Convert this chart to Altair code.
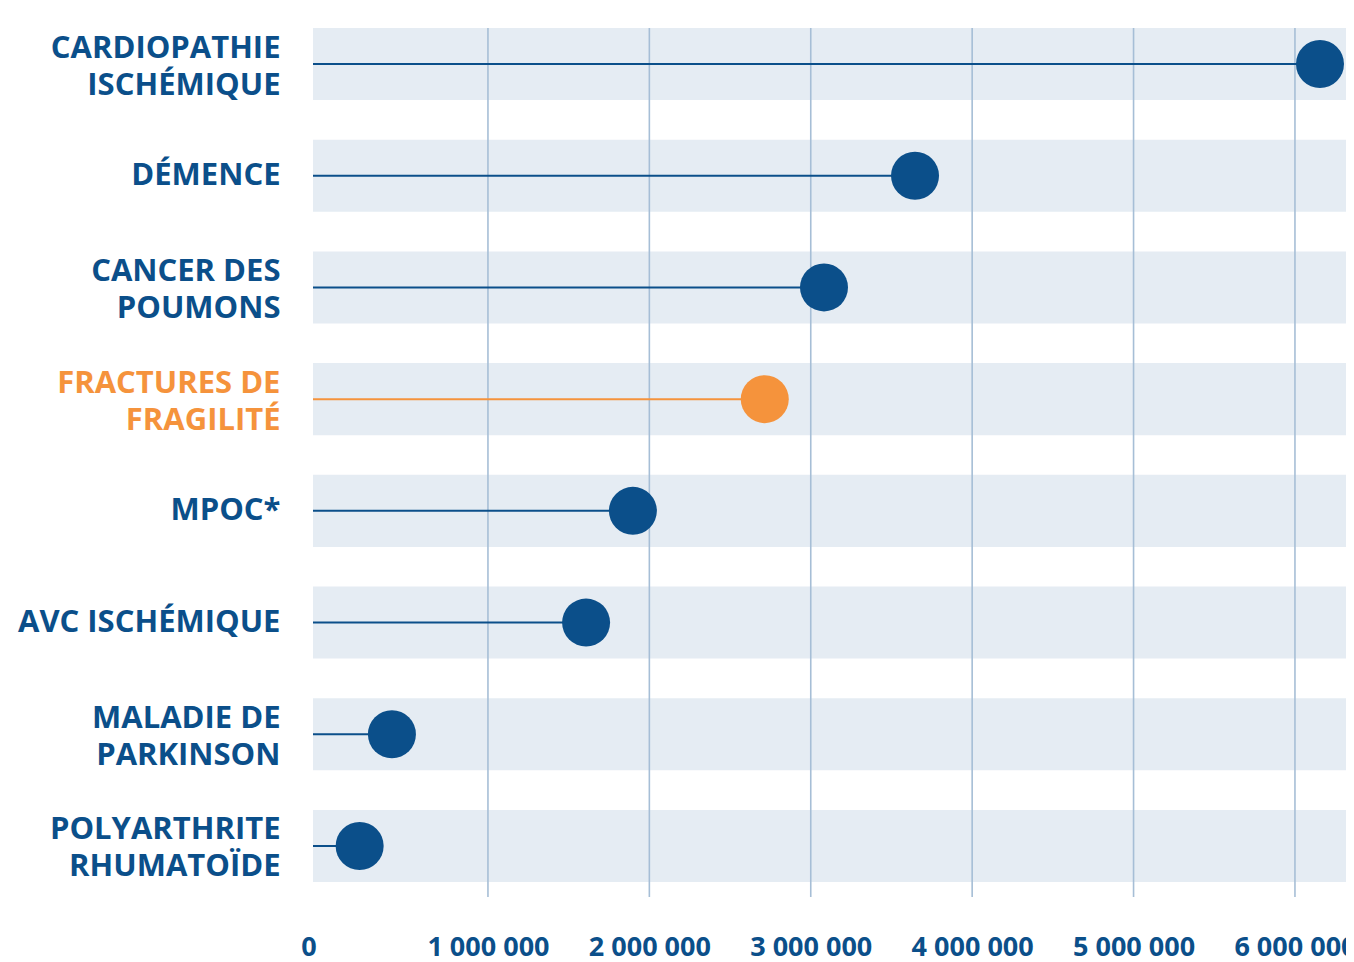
import altair as alt
import pandas as pd

categories = [
    "CARDIOPATHIE|ISCHÉMIQUE",
    "DÉMENCE",
    "CANCER DES|POUMONS",
    "FRACTURES DE|FRAGILITÉ",
    "MPOC*",
    "AVC ISCHÉMIQUE",
    "MALADIE DE|PARKINSON",
    "POLYARTHRITE|RHUMATOÏDE",
]
values = [6155000, 3646000, 3082000, 2715000, 1898000, 1608000, 405000, 205000]
highlight = "FRACTURES DE|FRAGILITÉ"
tick_values = [0, 1000000, 2000000, 3000000, 4000000, 5000000, 6000000]
grid_values = [1000000, 2000000, 3000000, 4000000, 5000000, 6000000]

BLUE = "#0b4f8a"
ORANGE = "#f5933c"
BAND = "#e5ecf3"
GRID = "#a6bed6"
FONT = "Open Sans"

df = pd.DataFrame({"cat": categories, "val": values})
grid_df = pd.DataFrame({"val": grid_values})

W = 1033
H = 869
PX_PER_UNIT = 161.4 / 1e6
XMIN = -84000
XMAX = XMIN + W / PX_PER_UNIT

xscale = alt.Scale(domain=[XMIN, XMAX], nice=False, zero=False)
yscale = alt.Scale(domain=categories, range=[0, 854], paddingInner=0.355, paddingOuter=0)

color_cond = alt.condition(alt.datum.cat == highlight, alt.value(ORANGE), alt.value(BLUE))

yaxis = alt.Axis(
    title=None, domain=False, ticks=False, grid=False,
    labelExpr="split(datum.label, '|')",
    labelFont=FONT, labelFontWeight="bold", labelFontSize=31,
    labelLineHeight=37, labelPadding=33, labelLimit=400,
    labelBaseline="middle", labelAlign="right",
    labelOffset={"expr": "indexof(datum.value, '|') >= 0 ? -15.5 : 0"},
    labelColor={"expr": f"datum.value == '{highlight}' ? '{ORANGE}' : '{BLUE}'"},
)

xaxis = alt.Axis(
    title=None, values=tick_values, domain=False, ticks=False, grid=False,
    labelExpr="replace(format(datum.value, ','), /,/g, ' ')",
    labelFont=FONT, labelFontWeight="bold", labelFontSize=27,
    labelColor=BLUE, labelPadding=37,
    labelOffset={"expr": "datum.value == 0 ? -18 : 0"},
    labelFlush=False, labelOverlap=False,
)

base = alt.Chart(df)

bands = base.mark_bar(color=BAND).encode(
    y=alt.Y("cat:N", scale=yscale, sort=categories, axis=yaxis),
    x=alt.value(0),
    x2=alt.value(W),
)

grid = alt.Chart(grid_df).mark_rule(color=GRID, strokeWidth=1.6).encode(
    x=alt.X("val:Q", scale=xscale, axis=xaxis),
)

stems = base.mark_rule(strokeWidth=2).encode(
    y=alt.Y("cat:N", scale=yscale, sort=categories),
    x=alt.X("val:Q", scale=xscale, axis=xaxis),
    x2=alt.value(0),
    color=color_cond,
)

dots = base.mark_circle(size=2304, opacity=1).encode(
    y=alt.Y("cat:N", scale=yscale, sort=categories),
    x=alt.X("val:Q", scale=xscale, axis=xaxis),
    color=color_cond,
)

chart = alt.layer(bands, grid, stems, dots).properties(
    width=W, height=H,
    autosize=alt.AutoSizeParams(type="none"),
    padding={"left": 305, "top": 20, "right": 0, "bottom": 60},
).configure_view(stroke=None)

chart.save("out.html", embed_options={"renderer": "svg", "actions": False})
